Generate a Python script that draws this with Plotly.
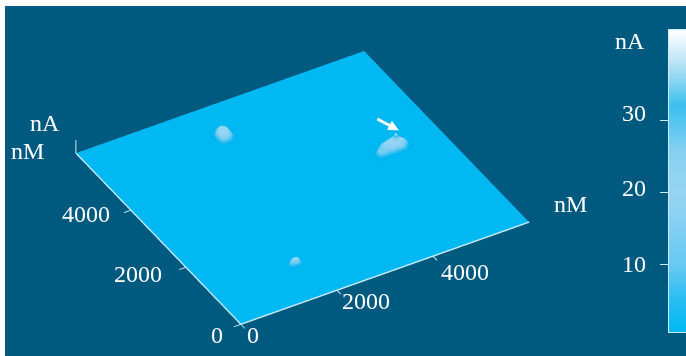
import plotly.graph_objects as go

W, H = 686, 356
BG = "#005a80"
FONT = "Liberation Serif"
LINE = "#c8edfa"

# Flat surface extent (nM) and heights (nA) of the three bumps
extent_nm = [0, 6000]
ticks_nm = [0, 2000, 4000]
cbar_ticks = [10, 20, 30]
z_axis_nA = [0, 43]

a_x = [2370, 2440, 2510, 2580, 2650, 2720]
a_y = [4830, 4910, 4990, 5070, 5150, 5230, 5310]
a_z = [
    [0, 0, 0, 0, 0, 0],
    [0, 14, 17, 13, 0, 0],
    [0, 18, 21, 19, 14, 0],
    [0, 17, 22, 20, 18, 0],
    [0, 13, 20, 22, 17, 0],
    [0, 0, 15, 18, 13, 0],
    [0, 0, 0, 0, 0, 0],
]

b_x = [4600, 4680, 4760, 4840, 4920, 5000, 5080, 5160, 5240, 5320]
b_y = [3000, 3080, 3160, 3240, 3320, 3400]
b_z = [
    [0, 0, 0, 0, 0, 0, 0, 0, 0, 0],
    [0, 11, 16, 13, 18, 15, 19, 14, 0, 0],
    [0, 15, 12, 20, 16, 22, 21, 18, 15, 0],
    [0, 0, 14, 17, 21, 20, 41, 22, 16, 0],
    [0, 0, 0, 12, 16, 19, 23, 18, 11, 0],
    [0, 0, 0, 0, 0, 0, 0, 0, 0, 0],
]

c_x = [1615, 1665, 1715, 1765, 1815, 1865]
c_y = [980, 1030, 1080, 1130, 1180]
c_z = [
    [0, 0, 0, 0, 0, 0],
    [0, 14, 19, 18, 12, 0],
    [0, 17, 22, 21, 17, 0],
    [0, 0, 14, 15, 0, 0],
    [0, 0, 0, 0, 0, 0],
]

color_stops = [
    [0.00, "#00b9f2"], [0.10, "#25bdf2"], [0.225, "#69c9f2"], [0.46, "#98d5f3"],
    [0.60, "#85d0f2"], [0.75, "#3cc0f0"], [0.82, "#80d2f2"], [0.90, "#c0e6f6"], [1.00, "#ffffff"],
]
z_lo, z_hi = 0.5, 42.7

patches = [(a_x, a_y, a_z), (b_x, b_y, b_z), (c_x, c_y, c_z)]
xs = sorted(set(extent_nm + a_x + b_x + c_x))
ys = sorted(set(extent_nm + a_y + b_y + c_y))
zgrid = [[0.0 for _ in xs] for _ in ys]
for px, py, pz in patches:
    for j, yv in enumerate(py):
        for i, xv in enumerate(px):
            zgrid[ys.index(yv)][xs.index(xv)] = pz[j][i]

surface = go.Surface(
    x=xs, y=ys, z=zgrid, cmin=z_lo, cmax=z_hi, colorscale=color_stops, showscale=False,
    lighting=dict(ambient=1, diffuse=0, specular=0, roughness=1, fresnel=0),
    hoverinfo="skip",
)
z_stub = go.Scatter3d(x=[extent_nm[0]] * 2, y=[extent_nm[1]] * 2, z=z_axis_nA, mode="lines",
                      line=dict(color=LINE, width=2), hoverinfo="skip")

# Colour bar drawn as a thin heat map, so its axis sits on the left
ramp = [z_lo + (z_hi - z_lo) * k / 150 for k in range(151)]
bar = go.Heatmap(x=[0, 1], y=ramp, z=[[v, v] for v in ramp], zmin=z_lo, zmax=z_hi,
                 colorscale=color_stops, showscale=False, hoverinfo="skip", xaxis="x", yaxis="y")

fig = go.Figure([surface, z_stub, bar])

ax3 = dict(showgrid=False, zeroline=False, showbackground=False, showspikes=False, title="",
           showticklabels=False, showline=True, linecolor=LINE, linewidth=3,
           ticks="outside", ticklen=8, tickcolor=LINE, tickwidth=2, tickvals=ticks_nm, range=extent_nm)

def lab(text, x, y, z, dx, dy):
    return dict(text=text, x=x, y=y, z=z, xshift=dx, yshift=dy, showarrow=False,
                font=dict(family=FONT, size=24, color="white"))

scene_ann = [
    lab("0", 0, 0, 0, 12, -11), lab("2000", 2000, 0, 0, 29, -11), lab("4000", 4000, 0, 0, 32, -16),
    lab("0", 0, 0, 0, -24, -11), lab("2000", 0, 2000, 0, -48, -7), lab("4000", 0, 4000, 0, -45, -4),
    lab("nM", 6000, 0, 0, 41, 18), lab("nM", 0, 6000, 0, -48, 2), lab("nA", 0, 6000, 0, -31, 30),
    dict(text="", x=5080, y=3240, z=41, showarrow=True, arrowcolor="white", arrowwidth=3,
         arrowhead=2, arrowsize=0.7, ax=-23, ay=-12, xshift=3, yshift=2),
]

cbar_labels = [
    dict(text=str(v), xref="paper", yref="y", x=633.5 / W, y=v, yshift=s, xanchor="center", yanchor="middle",
         showarrow=False, font=dict(family=FONT, size=24, color="white"))
    for v, s in zip(cbar_ticks, [0, 4, 8])
]

fig.update_layout(
    width=W, height=H, margin=dict(l=0, r=0, t=0, b=0), paper_bgcolor="white",
    plot_bgcolor="rgba(0,0,0,0)", showlegend=False,
    shapes=[dict(type="rect", xref="paper", yref="paper", x0=5 / W, x1=1, y0=0, y1=1 - 6 / H,
                 fillcolor=BG, line_width=0, layer="below")],
    scene=dict(
        domain=dict(x=[0, 605 / W], y=[2.5 / H, 348.5 / H]),
        aspectmode="manual", aspectratio=dict(x=1.93, y=1.89, z=0.096),
        xaxis=ax3, yaxis=ax3,
        zaxis=dict(showgrid=False, zeroline=False, showbackground=False, showspikes=False, title="",
                   showticklabels=False, showline=False, ticks="", range=z_axis_nA),
        bgcolor="rgba(0,0,0,0)",
        camera=dict(eye=dict(x=-0.802, y=-1.372, z=1.212), up=dict(x=0, y=0, z=1),
                    center=dict(x=0, y=0, z=0), projection=dict(type="orthographic")),
        annotations=scene_ann,
    ),
    xaxis=dict(domain=[669 / W, 1], range=[0, 1], showticklabels=False, ticks="", showgrid=False,
               zeroline=False, showline=True, linecolor=LINE, mirror=True, fixedrange=True),
    yaxis=dict(domain=[1 - 332 / H, 1 - 30 / H], range=[z_lo, z_hi], tickvals=cbar_ticks, ticks="outside",
               ticklen=8, tickcolor=LINE, showticklabels=False, showgrid=False, zeroline=False, showline=True,
               linecolor=LINE, mirror=True, anchor="x", fixedrange=True),
    annotations=cbar_labels + [
        dict(text="nA", xref="paper", yref="paper", x=630 / W, y=1 - 41 / H, xanchor="center", yanchor="middle",
             showarrow=False, font=dict(family=FONT, size=24, color="white"))],
)
fig.write_html("out.html", config={"displayModeBar": False}, post_script="document.body.style.margin='0';")
